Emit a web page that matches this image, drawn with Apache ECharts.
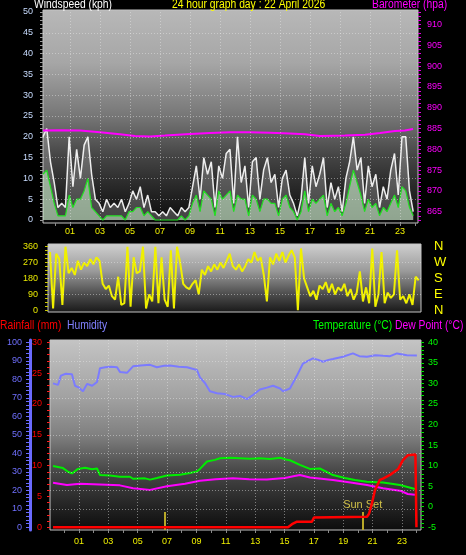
<!DOCTYPE html>
<html><head><meta charset="utf-8">
<script src="https://cdn.jsdelivr.net/npm/echarts@6/dist/echarts.min.js"></script>
<style>html,body{margin:0;padding:0;background:#000;}#c{width:466px;height:555px;}</style>
</head><body><div id="c"></div>
<script>
// ---------- DATA ----------
const hourValues = [1,3,5,7,9,11,13,15,17,19,21,23];
const hourLabels = ['01','03','05','07','09','11','13','15','17','19','21','23'];

// wind samples (kph), evenly spaced from WIND_START hour, every WIND_STEP hour
const WIND_START = -0.8, WIND_STEP = 0.2493;
const windGust = [20,22,14,9,3,4,3,20,8,17, 10,18,20,11,5,4,2,5,3,4, 3,5,2,4,7,5,8,3,6,2,
  2,1,2,1,3,2,1,3,2,3, 8,13,5,15,11,14,3,13,10,16, 17,4,20,9,13,3,14,15,5,12,
  15,9,11,3,10,12,6,4,1,5, 15,4,13,8,11,15,3,9,5,8, 2,10,14,20,12,15,4,13,8,11,
  3,8,5,12,16,6,20,20,7,2];
const windAvg = [11,12,8,4,1,1,1,6,3,5, 5,7,10,3,2,1,0,1,1,1, 1,1,0,2,2,3,3,1,2,1,
  0,0,0,0,0,0,0,1,0,1, 4,6,2,7,6,5,1,7,5,6, 7,2,6,5,5,1,6,5,2,5,
  5,4,4,1,5,6,3,2,0,2, 7,2,5,4,5,6,1,4,2,3, 1,4,8,12,9,6,2,5,3,4,
  1,3,2,4,6,3,8,7,3,1];

const baroTimes  = [-0.8,0.33,1.67,3.0,4.33,5.33,6.33,7.33,9.0,10.33,11.67,13.0,14.33,15.67,16.67,17.67,19.33,20.67,21.67,22.67,23.33,23.87];
const baroValues = [884.5,884.6,884.5,884.1,883.6,883.2,883.1,883.3,883.7,883.9,884.1,884.1,884.0,883.8,883.6,883.2,883.3,883.5,883.9,884.4,884.5,884.9];

// wind direction (degrees), evenly spaced
const DIR_START = -0.964, DIR_STEP = 0.211;
const windDir = [330,10,320,290,30,360,210,240,200,280,
  230,270,250,290,260,300,280,150,120,140,
  80,60,190,30,40,360,20,300,210,220,
  360,10,90,50,360,40,300,60,20,340,
  10,360,270,150,130,120,150,170,90,230,
  200,250,220,260,230,270,240,280,320,250,
  230,260,220,250,290,270,330,280,300,200,
  50,300,260,320,280,330,270,310,340,300,
  0,350,180,130,80,110,60,140,120,160,
  100,150,90,130,110,150,80,120,60,100,
  220,50,130,40,350,20,90,330,40,100,
  70,90,340,60,80,40,90,30,190,170];
const compassLabels = ['N','E','S','W','N'];

const humTimes  = [-0.77,-0.43,-0.23,0.1,0.52,0.73,1.0,1.27,1.55,1.9,2.23,2.43,2.8,3.2,3.59,3.79,4.27,4.68,5.2,5.84,6.31,6.8,7.2,7.8,8.36,9.04,9.24,9.58,9.92,10.4,10.95,11.49,11.97,12.45,12.85,13.33,13.8,14.22,14.7,14.9,15.37,15.85,16.26,16.6,16.94,17.3,17.62,18.0,18.3,18.98,19.66,20.1,20.62,21.2,21.71,22.2,22.66,23.34,24.02];
const humValues = [77.8,77,82,83,82.7,76.5,75.5,73.5,77.5,76.5,78.5,86,86.5,86.8,86.5,84,83.5,87,87.5,87.8,86.5,87.3,87.5,86.8,86.5,85,81,78,73.5,72.5,72,70.5,71,69.3,71.5,74.5,75.5,76.5,75,73.5,75,82,88.5,90,91.3,90.5,89.5,90.5,91,92.2,94,92.5,92.2,93,92.7,92.5,94,93,92.8];

const tempTimes  = [-0.77,-0.09,0.25,0.52,0.93,1.41,1.89,2.23,2.43,3.11,3.79,4.47,4.68,5.5,5.84,6.31,6.99,7.88,8.56,9.04,9.24,9.72,10.26,10.6,11.29,11.97,12.65,13.33,14.01,14.7,15.1,15.37,16.05,16.73,17.41,18.3,19.12,19.8,20.62,21.71,22.87,23.89];
const tempValues = [9.9,9.4,8.5,8.1,9.2,9.5,9.1,9.3,7.7,7.6,7.3,7.3,6.8,6.9,6.6,7.0,7.6,7.8,8.2,8.6,9.2,11,11.4,11.8,11.9,11.8,11.7,11.8,11.6,11.9,11.5,11.3,10.2,9.2,9.3,7.7,7,6.5,6.1,5.9,5.3,4.3];

const dewTimes  = [-0.77,0.18,1.07,2.43,3.79,4.68,5.84,6.99,8.22,9.24,10.3,11.49,12.6,13.8,15.03,15.6,16.05,16.73,18.3,19.5,20.62,21.71,22.87,23.4,23.89];
const dewValues = [5.85,5.3,5.6,5.4,5.2,4.5,4.1,5,5.6,6.3,6.7,6.9,6.7,6.6,7,7.4,7.7,7.1,6.5,5.9,5.3,4.5,3.9,3.1,2.9];

const rainTimes  = [-0.77,15.24,15.51,15.85,16.87,17.01,20.62,20.76,20.96,21.16,21.5,21.71,22.19,22.73,23.07,23.41,23.92,23.99];
const rainValues = [0,0,0.5,0.9,0.9,1.6,1.7,2.2,3.9,6,7.7,7.9,8.5,9.4,10.9,11.7,11.8,0];

const sunEvents = [{label:'', hour:6.86}, {label:'Sun Set', hour:20.33}];

// ---------- helpers ----------
function seq(a,b,s){const r=[];for(let v=a;v<=b+1e-9;v+=s)r.push(+v.toFixed(4));return r;}
function zip(t,v){return v.map((y,i)=>[t[i],y]);}
const FONT = '"Liberation Sans", Arial, sans-serif';
function grad(stops){return {type:'linear',x:0,y:0,x2:0,y2:1,colorStops:stops.map(s=>({offset:s[0],color:s[1]}))};}
const gridLineStyle = {type:[1,2], color:'rgba(235,235,235,0.45)', width:1};
function guide(h, v){
  return {silent:true, symbol:'none', animation:false, label:{show:false}, lineStyle:gridLineStyle,
    data:[...v.map(y=>({yAxis:y})), ...h.map(x=>({xAxis:x}))]};
}
function xAx(gi,min,max,showLabel,margin){
  return {type:'value', gridIndex:gi, position:'bottom', min, max, axisLine:{show:false, onZero:false}, splitLine:{show:false},
    axisTick:{show:showLabel, customValues:seq(0,24,1), length:3, lineStyle:{color:'#8a8a8a'}},
    axisLabel:{show:showLabel, customValues:hourValues, formatter:v=>hourLabels[hourValues.indexOf(v)]||'',
      color:'#f0f000', fontSize:9, fontFamily:FONT, margin}};
}
function yAx(o){
  return {type:'value', gridIndex:o.grid, position:o.pos, offset:o.offset||0, min:o.min, max:o.max,
    axisLine:o.line?{show:true, onZero:false, lineStyle:o.line}:{show:false, onZero:false},
    splitLine:{show:false},
    axisTick:{show:!!o.ticks, customValues:o.ticks, length:o.tlen||3, lineStyle:{color:o.tcolor, width:1}},
    axisLabel:{customValues:o.labels, color:o.color, fontSize:o.fs||9, fontFamily:FONT, margin:o.margin,
      formatter:o.fmt||(v=>String(v))}};
}
function caption(text, x, y, color){
  return {type:'text', x, y, scaleX:0.86, silent:true,
    style:{text, fill:color, font:'12px ' + FONT, textVerticalAlign:'middle', textAlign:'left'}};
}

const option = {
  backgroundColor:'#000',
  animation:false,
  graphic:[
    caption('Windspeed (kph)', 34, 5, '#ffffff'),
    caption('24 hour graph day : 22 April 2026', 172, 5, '#ffff00'),
    caption('Barometer (hpa)', 372, 5, '#ff00ff'),
    caption('Rainfall (mm)', 0, 326, '#ff0000'),
    caption('Humidity', 67, 326, '#8080ff'),
    caption('Temperature (°C)', 313, 326, '#00ff00'),
    caption('Dew Point (°C)', 395, 326, '#ff00ff')
  ],
  grid:[
    {left:43, top:10, width:375, height:213, show:true, borderColor:'#c4c4c4', borderWidth:1,
      backgroundColor:grad([[0,'#b8b8b8'],[0.25,'#a6a6a6'],[0.5,'#767676'],[0.68,'#464646'],[0.82,'#2a2a2a'],[1,'#0a0a0a']])},
    {left:48, top:244, width:373, height:68, show:true, borderColor:'#c4c4c4', borderWidth:1,
      backgroundColor:grad([[0,'#d0d0d0'],[0.4,'#9a9a9a'],[0.72,'#505050'],[1,'#181818']])},
    {left:50, top:340, width:371, height:190, show:true, borderColor:'#c4c4c4', borderWidth:1,
      backgroundColor:grad([[0,'#c4c4c4'],[0.3,'#a2a2a2'],[0.5,'#808080'],[0.68,'#4a4a4a'],[0.84,'#2a2a2a'],[1,'#0c0c0c']])}
  ],
  xAxis:[ xAx(0,-0.8,24.2,true,4), xAx(1,-1.1,24.3,false,0), xAx(2,-0.975,24.3,true,7) ],
  yAxis:[
    yAx({grid:0,pos:'left',min:-0.72,max:50.48,ticks:seq(0,50,1),tcolor:'#9a9a9a',labels:seq(0,50,5),color:'#c8dcff',margin:10}),
    yAx({grid:0,pos:'right',min:862.28,max:913.48,ticks:seq(863,913,1),tcolor:'#e000e0',labels:seq(865,910,5),color:'#ff00ff',margin:9}),
    yAx({grid:1,pos:'left',min:-9.6,max:375.3,ticks:seq(0,360,22.5),tcolor:'#c8c800',labels:[0,90,180,270,360],color:'#e8e800',margin:10}),
    yAx({grid:1,pos:'right',min:-9.6,max:375.3,labels:[0,90,180,270,360],color:'#ffff00',fs:13,margin:13,
      fmt:v=>compassLabels[[0,90,180,270,360].indexOf(v)]}),
    yAx({grid:2,pos:'left',min:-0.44,max:30.37,ticks:seq(0,30,1),tcolor:'#ff2020',labels:seq(0,30,5),color:'#ff0000',margin:8}),
    yAx({grid:2,pos:'left',offset:20,min:-1.46,max:101.24,ticks:seq(0,100,2),tlen:4,tcolor:'#6a6aff',labels:seq(0,100,10),color:'#7070ff',margin:8,
      line:{color:'#6a6aff',width:3}}),
    yAx({grid:2,pos:'right',min:-5.66,max:40.56,ticks:seq(-5,40,1),tcolor:'#00e000',labels:seq(-5,40,5),color:'#00ff00',margin:7})
  ],
  series:[
    {type:'line', name:'Gust', xAxisIndex:0, yAxisIndex:0, showSymbol:false, z:2,
      data:zip(windGust.map((_,i)=>WIND_START+i*WIND_STEP), windGust),
      lineStyle:{color:'rgba(255,255,255,0.9)', width:1.5}, areaStyle:{color:'rgba(205,205,205,0.4)'},
      markLine:guide(hourValues, seq(5,45,5))},
    {type:'line', name:'Average', xAxisIndex:0, yAxisIndex:0, showSymbol:false, z:3,
      data:zip(windAvg.map((_,i)=>WIND_START+i*WIND_STEP), windAvg),
      lineStyle:{color:'#22e022', width:1.2}, areaStyle:{color:'rgba(215,255,215,0.75)'}},
    {type:'line', name:'Barometer', xAxisIndex:0, yAxisIndex:1, showSymbol:false, z:4,
      data:zip(baroTimes, baroValues), lineStyle:{color:'#ff00ff', width:2}},
    {type:'line', name:'Direction', xAxisIndex:1, yAxisIndex:2, showSymbol:false, z:3,
      data:zip(windDir.map((_,i)=>DIR_START+i*DIR_STEP), windDir),
      lineStyle:{color:'#f0f000', width:2},
      markLine:guide([], [90,180,270])},
    {type:'line', name:'Humidity', xAxisIndex:2, yAxisIndex:5, showSymbol:false, z:3,
      data:zip(humTimes, humValues), lineStyle:{color:'#7b7bff', width:2},
      markLine:guide(hourValues, seq(10,90,10))},
    {type:'line', name:'Dew Point', xAxisIndex:2, yAxisIndex:6, showSymbol:false, z:3,
      data:zip(dewTimes, dewValues), lineStyle:{color:'#ff00ff', width:2}},
    {type:'line', name:'Temperature', xAxisIndex:2, yAxisIndex:6, showSymbol:false, z:3,
      data:zip(tempTimes, tempValues), lineStyle:{color:'#00ee00', width:2}},
    {type:'line', name:'Rainfall', xAxisIndex:2, yAxisIndex:4, showSymbol:false, z:5,
      data:zip(rainTimes, rainValues), lineStyle:{color:'#ff0000', width:2.5},
      markLine:{silent:true, symbol:'none', animation:false,
        lineStyle:{type:'solid', color:'#b8a828', width:2},
        label:{show:true, position:'end', color:'#d0c048', fontSize:11, fontFamily:FONT, distance:2,
          formatter:p=>p.name},
        data:sunEvents.map(e=>[{name:e.label, coord:[e.hour,-0.44]},{coord:[e.hour,2.48]}])}}
  ]
};
const chart = echarts.init(document.getElementById('c'), null, {renderer:'canvas'});
chart.setOption(option);
</script></body></html>
